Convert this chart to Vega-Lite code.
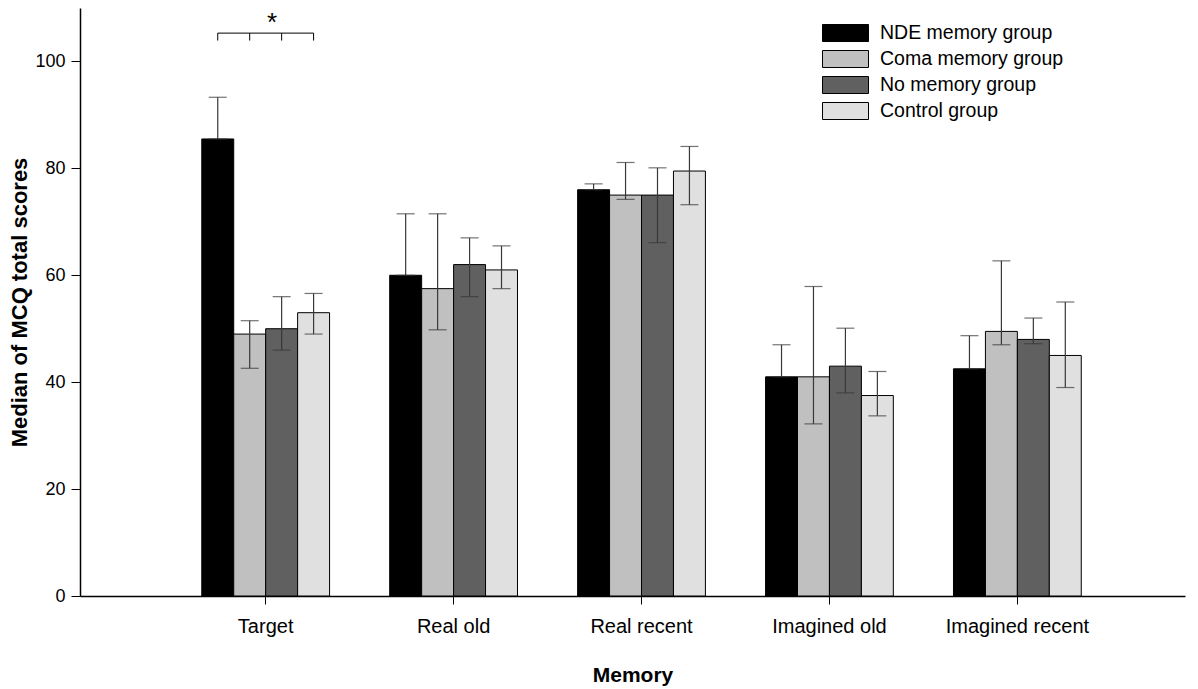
{
  "$schema": "https://vega.github.io/schema/vega-lite/v6.json",
  "width": 1105,
  "height": 588,
  "autosize": "none",
  "padding": {"left": 80, "top": 8, "right": 13, "bottom": 93},
  "background": "white",
  "config": {
    "font": "Liberation Sans",
    "view": {"stroke": null}
  },
  "datasets": {
    "bars": [
      {"Memory": "Target", "Group": "NDE memory group", "value": 85.5, "lo": 85.5, "hi": 93.3},
      {"Memory": "Target", "Group": "Coma memory group", "value": 49, "lo": 42.6, "hi": 51.5},
      {"Memory": "Target", "Group": "No memory group", "value": 50, "lo": 46, "hi": 56},
      {"Memory": "Target", "Group": "Control group", "value": 53, "lo": 49, "hi": 56.6},
      {"Memory": "Real old", "Group": "NDE memory group", "value": 60, "lo": 60, "hi": 71.5},
      {"Memory": "Real old", "Group": "Coma memory group", "value": 57.5, "lo": 49.8, "hi": 71.5},
      {"Memory": "Real old", "Group": "No memory group", "value": 62, "lo": 56, "hi": 67},
      {"Memory": "Real old", "Group": "Control group", "value": 61, "lo": 57.5, "hi": 65.5},
      {"Memory": "Real recent", "Group": "NDE memory group", "value": 76, "lo": 76, "hi": 77.1},
      {"Memory": "Real recent", "Group": "Coma memory group", "value": 75, "lo": 74.2, "hi": 81.1},
      {"Memory": "Real recent", "Group": "No memory group", "value": 75, "lo": 66.1, "hi": 80.1},
      {"Memory": "Real recent", "Group": "Control group", "value": 79.5, "lo": 73.2, "hi": 84.1},
      {"Memory": "Imagined old", "Group": "NDE memory group", "value": 41, "lo": 41, "hi": 47},
      {"Memory": "Imagined old", "Group": "Coma memory group", "value": 41, "lo": 32.2, "hi": 57.9},
      {"Memory": "Imagined old", "Group": "No memory group", "value": 43, "lo": 38, "hi": 50.1},
      {"Memory": "Imagined old", "Group": "Control group", "value": 37.5, "lo": 33.7, "hi": 42},
      {"Memory": "Imagined recent", "Group": "NDE memory group", "value": 42.5, "lo": 42.5, "hi": 48.7},
      {"Memory": "Imagined recent", "Group": "Coma memory group", "value": 49.5, "lo": 47, "hi": 62.7},
      {"Memory": "Imagined recent", "Group": "No memory group", "value": 48, "lo": 47.2, "hi": 52},
      {"Memory": "Imagined recent", "Group": "Control group", "value": 45, "lo": 39, "hi": 55}
    ],
    "bracket": [
      {"Memory": "Target", "Group": "NDE memory group", "top": 105.3, "bottom": 103.9, "k": 1},
      {"Memory": "Target", "Group": "Coma memory group", "top": 105.3, "bottom": 103.9, "k": 2},
      {"Memory": "Target", "Group": "No memory group", "top": 105.3, "bottom": 103.9, "k": 3},
      {"Memory": "Target", "Group": "Control group", "top": 105.3, "bottom": 103.9, "k": 4}
    ],
    "star": [
      {"Memory": "Target", "Group": "No memory group", "label": "*", "y": 105.7}
    ]
  },
  "encoding": {
    "x": {
      "field": "Memory",
      "type": "nominal",
      "sort": ["Target", "Real old", "Real recent", "Imagined old", "Imagined recent"],
      "scale": {"paddingInner": 0.32, "paddingOuter": 0.6, "align": 0.54},
      "axis": {
        "title": "Memory",
        "titleFontSize": 21,
        "titleFontWeight": "bold",
        "titleColor": "black",
        "titlePadding": 28,
        "labelAngle": 0,
        "labelFontSize": 20,
        "labelColor": "black",
        "labelPadding": 12,
        "labelFontWeight": "normal",
        "domainColor": "black",
        "domainWidth": 1.5,
        "tickColor": "black",
        "tickSize": 8,
        "tickWidth": 1,
        "grid": false
      }
    },
    "xOffset": {
      "field": "Group",
      "type": "nominal",
      "sort": ["NDE memory group", "Coma memory group", "No memory group", "Control group"],
      "scale": {"paddingInner": 0, "paddingOuter": 0}
    }
  },
  "layer": [
    {
      "data": {"name": "bars"},
      "mark": {"type": "bar", "stroke": "black", "strokeWidth": 1},
      "encoding": {
        "y": {
          "field": "value",
          "type": "quantitative",
          "scale": {"domain": [0, 110], "nice": false},
          "axis": {
            "title": "Median of MCQ total scores",
            "titleFontSize": 22,
            "titleFontWeight": "bold",
            "titleColor": "black",
            "titlePadding": 3,
            "values": [0, 20, 40, 60, 80, 100],
            "labelFontSize": 18,
            "labelColor": "black",
            "labelPadding": 6,
            "domainColor": "black",
            "domainWidth": 1.5,
            "tickColor": "black",
            "tickSize": 9,
            "grid": false
          }
        },
        "fill": {
          "field": "Group",
          "type": "nominal",
          "scale": {
            "domain": ["NDE memory group", "Coma memory group", "No memory group", "Control group"],
            "range": ["#000000", "#c0c0c0", "#606060", "#e0e0e0"]
          },
          "legend": {
            "title": null,
            "orient": "none",
            "legendX": 755,
            "legendY": 14.5,
            "symbolType": "M-2.3,-0.85H2.3V0.85H-2.3Z",
            "symbolSize": 400,
            "symbolStrokeColor": "black",
            "symbolStrokeWidth": 1,
            "symbolOpacity": 1,
            "labelFontSize": 19.5,
            "labelLimit": 400,
            "labelColor": "black",
            "labelOffset": 24,
            "rowPadding": 5,
            "padding": 0
          }
        }
      }
    },
    {
      "data": {"name": "bars"},
      "mark": {"type": "rule", "color": "#383838", "strokeWidth": 1.2},
      "encoding": {
        "y": {"field": "lo", "type": "quantitative"},
        "y2": {"field": "hi"}
      }
    },
    {
      "data": {"name": "bars"},
      "mark": {"type": "tick", "color": "#383838", "thickness": 1.2, "size": 18, "orient": "horizontal"},
      "encoding": {
        "y": {"field": "hi", "type": "quantitative"}
      }
    },
    {
      "data": {"name": "bars"},
      "mark": {"type": "tick", "color": "#383838", "thickness": 1.2, "size": 18, "orient": "horizontal"},
      "encoding": {
        "y": {"field": "lo", "type": "quantitative"}
      }
    },
    {
      "data": {"name": "bracket"},
      "mark": {"type": "rule", "color": "black", "strokeWidth": 1},
      "encoding": {
        "y": {"field": "bottom", "type": "quantitative"},
        "y2": {"field": "top"}
      }
    },
    {
      "data": {"name": "bracket"},
      "mark": {"type": "line", "color": "black", "strokeWidth": 1},
      "encoding": {
        "y": {"field": "top", "type": "quantitative"},
        "order": {"field": "k", "type": "quantitative"}
      }
    },
    {
      "data": {"name": "star"},
      "mark": {"type": "text", "fontSize": 26, "color": "black", "align": "center", "baseline": "alphabetic", "dx": -9.5},
      "encoding": {
        "y": {"field": "y", "type": "quantitative"},
        "text": {"field": "label"}
      }
    }
  ]
}
